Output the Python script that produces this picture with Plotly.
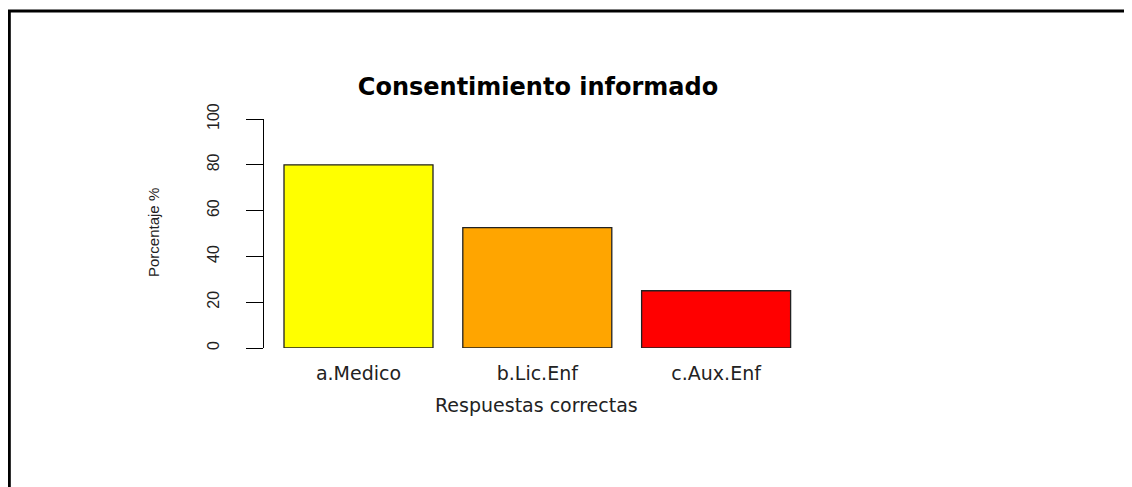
import plotly.graph_objects as go

categorias = ["a.Medico", "b.Lic.Enf", "c.Aux.Enf"]
porcentajes = [80, 52.6, 25]
colores = ["#FFFF00", "#FFA500", "#FF0000"]
ticks_y = [0, 20, 40, 60, 80, 100]

# the page body has an 8px margin, so the figure starts at (8, 8) on screen
OFF = 8
W, H = 1132 - OFF, 487 - OFF
# plot area in figure pixels (R barplot region)
L, R, T, B = 264 - OFF, 811 - OFF, 119 - OFF, 348 - OFF


def px_x(p):
    # screen pixel -> paper x
    return (p - OFF - L) / (R - L)


def px_y(p):
    # screen pixel -> paper y
    return (B - (p - OFF)) / (B - T)


fig = go.Figure()
fig.add_trace(go.Bar(
    x=categorias, y=porcentajes,
    marker=dict(color=colores, line=dict(color="#222222", width=1.3)),
    hoverinfo="x+y",
))

fig.update_layout(
    width=W, height=H,
    margin=dict(l=L, r=W - R, t=T, b=H - B),
    paper_bgcolor="white", plot_bgcolor="white",
    bargap=0.1667,
    showlegend=False,
    font=dict(family="DejaVu Sans", color="#222222"),
    title=dict(
        text="<b>Consentimiento informado</b>",
        x=(538 - OFF) / W, xanchor="center",
        y=1 - (87 - OFF) / H, yanchor="middle",
        font=dict(family="DejaVu Sans", size=24, color="black"),
    ),
)

fig.update_xaxes(
    range=[-0.5285, 2.5307],
    showline=False, showgrid=False, zeroline=False,
    ticks="", tickfont=dict(size=19, family="DejaVu Sans"),
    ticklabelstandoff=12,
)
fig.update_yaxes(
    range=[0, 100],
    tickvals=ticks_y,
    showline=True, linecolor="black", linewidth=1.3,
    showgrid=False, zeroline=False,
    ticks="outside", ticklen=17, tickcolor="black", tickwidth=1.3,
    tickangle=-90,
    tickfont=dict(size=16, family="Liberation Sans"),
    ticklabelstandoff=20,
)

fig.add_annotation(
    text="Respuestas correctas", showarrow=False,
    xref="paper", yref="paper",
    x=px_x(536), y=px_y(405), xanchor="center", yanchor="middle",
    font=dict(size=19, family="DejaVu Sans", color="#222222"),
)
fig.add_annotation(
    text="Porcentaje %", showarrow=False, textangle=-90,
    xref="paper", yref="paper",
    x=px_x(153), y=px_y(233), xanchor="center", yanchor="middle",
    font=dict(size=15, family="Liberation Sans", color="#222222"),
)

# outer frame of the original image (only top and left edges visible)
fig.add_shape(
    type="rect", xref="paper", yref="paper",
    x0=px_x(9.3), x1=px_x(1150), y0=px_y(11), y1=px_y(510),
    line=dict(color="black", width=3), layer="above",
)

fig.write_html("out.html")
